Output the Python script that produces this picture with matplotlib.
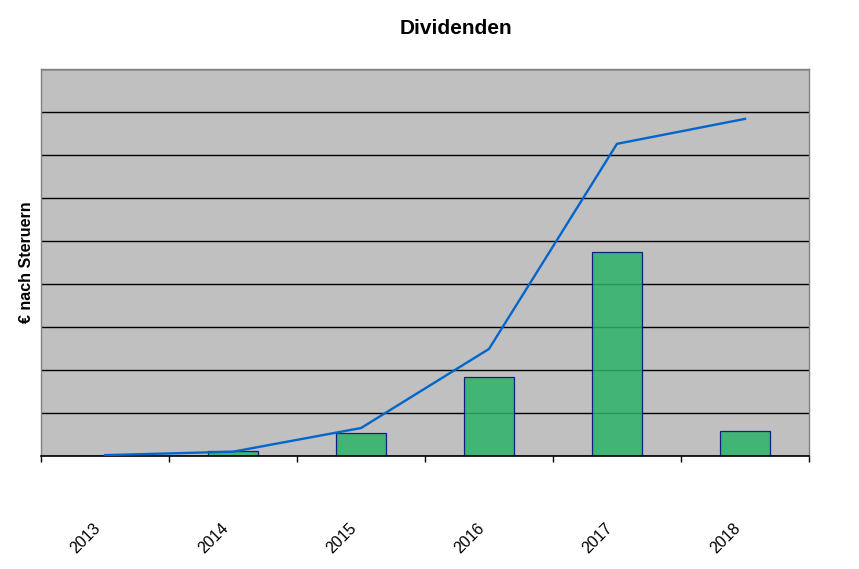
import matplotlib
matplotlib.use("Agg")
import matplotlib.pyplot as plt
from matplotlib.transforms import ScaledTranslation

plt.rcParams['font.family'] = ['Liberation Sans', 'DejaVu Sans']

years = ["2013", "2014", "2015", "2016", "2017", "2018"]
dividends = [0.0, 0.12, 0.53, 1.84, 4.74, 0.58]
cumulative = [0.02, 0.10, 0.65, 2.49, 7.26, 7.84]

fig = plt.figure(figsize=(8.59, 5.69), dpi=100)
ax = fig.add_axes([41/859, 113/569, 768/859, 387/569])
ax.set_facecolor('#C0C0C0')

centers = [i + 0.5 for i in range(len(years))]
ax.set_xlim(0, len(years))
ax.set_ylim(0, 9)

ax.set_yticks(range(0, 10))
ax.yaxis.grid(True, color='black', linewidth=1.0)
ax.set_axisbelow(True)
ax.tick_params(axis='y', left=False, labelleft=False)

ax.bar(centers, dividends, width=0.39, color='#2CB368', alpha=0.85,
       edgecolor='#000080', linewidth=0.9, zorder=2)
ax.plot(centers, cumulative, color='#0066CC', linewidth=1.7, zorder=3)

ax.set_xticks(range(0, len(years) + 1))
ax.tick_params(axis='x', direction='out', length=4.5, width=1, color='black',
               labelbottom=False)

for s in ['left', 'right', 'top']:
    ax.spines[s].set_color('#808080')
    ax.spines[s].set_linewidth(1)
ax.spines['bottom'].set_color('black')
ax.spines['bottom'].set_linewidth(1.2)

trans = ax.get_xaxis_transform() + ScaledTranslation(-7/100, -70/100, fig.dpi_scale_trans)
for c, lab in zip(centers, years):
    ax.text(c, 0, lab, transform=trans, rotation=45, ha='right', va='center',
            rotation_mode='anchor', fontsize=11.5)

fig.text(456/859, 1 - 29/569, 'Dividenden', ha='center', va='center',
         fontsize=15, fontweight='bold')
fig.text(27/859, 1 - 262/569, '€ nach Steruern', ha='center', va='center',
         rotation=90, fontsize=11.5, fontweight='bold')

fig.savefig('out.png', dpi=100)
